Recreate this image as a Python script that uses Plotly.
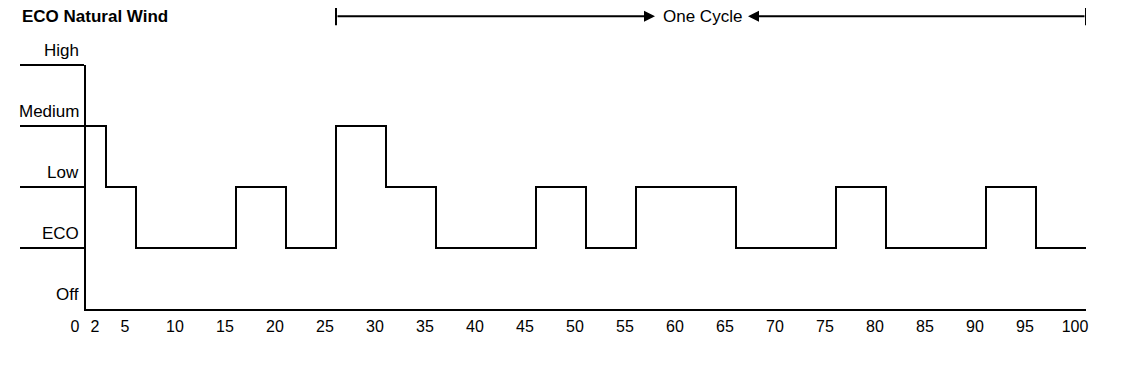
import plotly.graph_objects as go

# ---- data ----
levels = ["Off", "ECO", "Low", "Medium", "High"]
level_values = [0, 1, 2, 3, 4]
step_x = [0, 2, 5, 15, 20, 25, 30, 35, 45, 50, 55, 65, 75, 80, 90, 95, 100]
step_y = [3, 2, 1, 2, 1, 3, 2, 1, 2, 1, 2, 1, 2, 1, 2, 1, 1]
x_ticks = [0, 2, 5, 10, 15, 20, 25, 30, 35, 40, 45, 50, 55, 60, 65, 70, 75, 80, 85, 90, 95, 100]
x_tick_labels = [str(v) for v in x_ticks]
cycle_start = 25
cycle_end = 100
cycle_label = "One Cycle"
title_text = "ECO Natural Wind"

FONT = "Liberation Sans, Arial, sans-serif"
INK = "#000000"

fig = go.Figure()
fig.add_trace(go.Scatter(
    x=step_x, y=step_y, mode="lines", line=dict(shape="hv", color=INK, width=2),
    cliponaxis=False, showlegend=False, hoverinfo="skip"))

# y level labels
for name, v in zip(levels, level_values):
    fig.add_annotation(xref="paper", yref="y", x=0, y=v, text=name, showarrow=False,
                       xanchor="right", yanchor="middle", xshift=-5, yshift=15,
                       font=dict(family=FONT, size=17, color=INK))

# One cycle marker
arrow_y = 1.2
label_x = 61.6
left_tip = 56.9
right_tip = 66.2
fig.add_annotation(xref="x", yref="paper", x=left_tip, y=arrow_y, ax=cycle_start, ay=0,
                   axref="x", ayref="pixel", text="", showarrow=True,
                   arrowhead=2, arrowsize=1.1, arrowwidth=2, arrowcolor=INK)
fig.add_annotation(xref="x", yref="paper", x=right_tip, y=arrow_y, ax=cycle_end, ay=0,
                   axref="x", ayref="pixel", text="", showarrow=True,
                   arrowhead=2, arrowsize=1.1, arrowwidth=2, arrowcolor=INK)
fig.add_annotation(xref="x", yref="paper", x=label_x, y=arrow_y, text=cycle_label,
                   showarrow=False, xanchor="center", yanchor="middle",
                   font=dict(family=FONT, size=17, color=INK))
for xv in (cycle_start, cycle_end):
    fig.add_shape(type="line", xref="x", yref="paper", x0=xv, x1=xv,
                  y0=arrow_y - 0.037, y1=arrow_y + 0.037,
                  line=dict(color=INK, width=2))

fig.update_layout(
    width=1142, height=374,
    margin=dict(l=78, r=64, t=57, b=73),
    paper_bgcolor="white", plot_bgcolor="white",
    title=dict(text="<b>" + title_text + "</b>", x=14 / 1142, xanchor="left",
               y=1 - 8 / 374, yanchor="middle", xref="container", yref="container",
               font=dict(family=FONT, size=17, color=INK)),
    xaxis=dict(range=[0, 100], showgrid=False, zeroline=False, showline=True,
               linecolor=INK, linewidth=2, tickvals=x_ticks, ticktext=x_tick_labels,
               ticks="", ticklabelshift=-11, ticklabelstandoff=2,
               tickfont=dict(family=FONT, size=16, color=INK)),
    yaxis=dict(range=[0, 4], showgrid=False, zeroline=False, showline=True,
               linecolor=INK, linewidth=2, tickvals=level_values[1:], ticks="outside",
               ticklen=64, tickwidth=2, tickcolor=INK, showticklabels=False),
)

fig.write_html("out.html")
